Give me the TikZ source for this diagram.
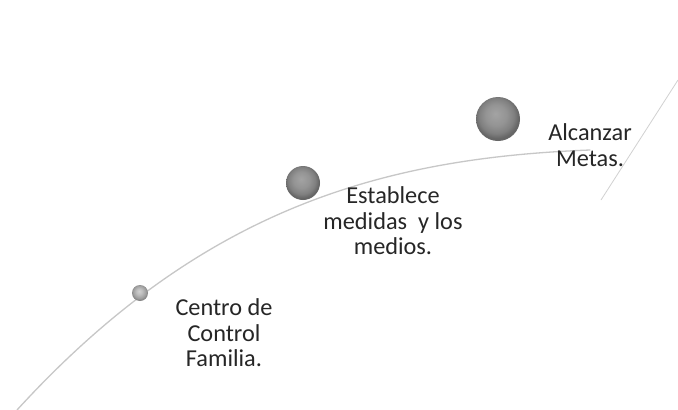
\documentclass[tikz,border=0pt]{standalone}
\usepackage{fontspec}
\setmainfont{Carlito}
\pgfdeclareradialshading{orbdark}{\pgfpoint{-3bp}{6bp}}{color(0bp)=(black!36); color(12bp)=(black!42); color(20bp)=(black!50); color(25bp)=(black!60); color(50bp)=(black!60)}
\pgfdeclareradialshading{orblight}{\pgfpoint{-3bp}{6bp}}{color(0bp)=(black!18); color(10bp)=(black!26); color(20bp)=(black!38); color(25bp)=(black!48); color(50bp)=(black!48)}
\begin{document}
\begin{tikzpicture}[x=1pt,y=-1pt,
  lbl/.style={align=center, text=black!85, font=\fontsize{24.3}{25.5}\selectfont, inner sep=0pt},
  sphere/.style={circle, shading=#1, inner sep=0pt, draw=none},
  track/.style={draw=black!22, line width=1.3pt, line cap=round},
  thinline/.style={draw=black!18, line width=0.8pt}]
\useasboundingbox (0,0) rectangle (678,410);
\fill[white] (0,0) rectangle (678,410);
\coordinate (c0) at (17,410);
\coordinate (c1) at (590,150);
\coordinate (d0) at (601,200);
\coordinate (d1) at (678,80);
\draw[track] (c0) .. controls (200,210) and (380,158) .. (c1);
\draw[thinline] (d0) -- (d1);
\node[sphere=orblight, minimum size=16pt] (b1) at (140,293) {};
\node[sphere=orbdark, minimum size=34pt] (b2) at (303,183) {};
\node[sphere=orbdark, minimum size=44pt] (b3) at (498,119) {};
\node[lbl] (t1) at (224,333) {Centro de\\Control\\Familia.};
\node[lbl] (t2) at (393,221) {Establece\\medidas\ \ y los\\medios.};
\node[lbl] (t3) at (590,145) {Alcanzar\\Metas.};
\end{tikzpicture}
\end{document}
